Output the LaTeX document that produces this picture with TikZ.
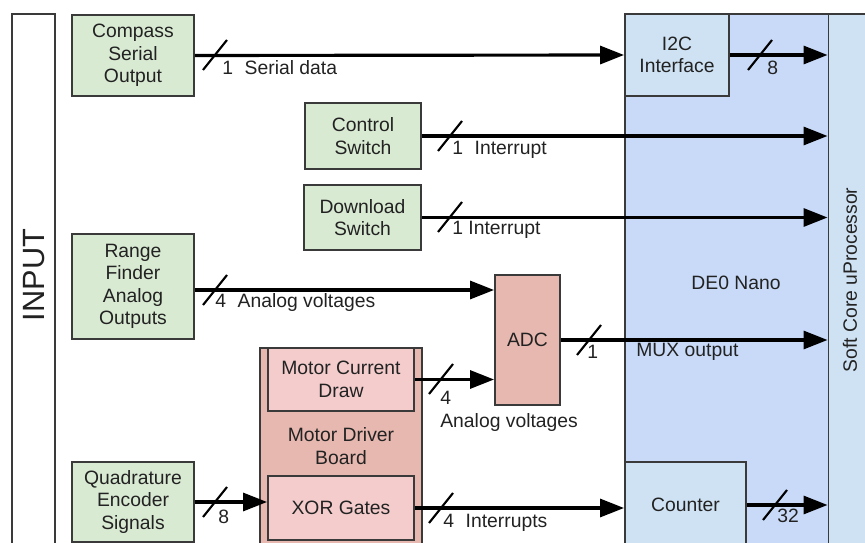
\documentclass[tikz,border=0pt]{standalone}
\usepackage{fontspec}
\setmainfont{Liberation Sans}
\usepackage{tikz}
\usetikzlibrary{arrows.meta,calc}
\definecolor{inpgreen}{HTML}{D9EAD3}
\definecolor{drvpink}{HTML}{E6B8AF}
\definecolor{subpink}{HTML}{F4CCCC}
\definecolor{fpgablue}{HTML}{C9DAF8}
\definecolor{coreblue}{HTML}{CFE2F3}
\definecolor{edge}{HTML}{3A3A3A}
\definecolor{ink}{HTML}{222222}
\tikzset{
  blk/.style={draw=edge, line width=1.1pt, align=center, inner sep=0pt, text=ink,
    font=\fontsize{11}{12.8}\selectfont},
  lbl/.style={text=ink, inner sep=0pt, align=center, font=\fontsize{11}{12.8}\selectfont},
  bus/.style={line width=1.8pt, -{Triangle[length=0.48cm,width=0.36cm]}},
  slash/.pic={\draw[line width=1.2pt] (-12,15) -- (12,-15);}
}
\begin{document}
\begin{tikzpicture}[x=0.02cm, y=-0.02cm]
\clip (0,0) rectangle (865,543);
%%%%% Blocks %%%%%
\node[blk, fill=white, minimum width=0.86cm, minimum height=10.9cm] (input) at (33.5,286) {};
\node[lbl, rotate=90, font=\fontsize{17.5}{20}\selectfont] at (34,275) {INPUT};
\node[blk, fill=fpgablue, minimum width=4.1cm, minimum height=10.9cm] (de0) at (727.5,286) {};
\node[lbl] at (736,283) {DE0 Nano};
\node[blk, fill=coreblue, minimum width=2.08cm, minimum height=1.64cm] (i2c) at (677,55) {I2C\\Interface};
\node[blk, fill=coreblue, minimum width=2.42cm, minimum height=1.72cm] (counter) at (685.5,505) {Counter};
\node[blk, fill=coreblue, minimum width=1.1cm, minimum height=10.9cm] (cpu) at (856,286) {};
\node[lbl, rotate=90] at (850,280) {Soft Core uProcessor};
\node[blk, fill=inpgreen, minimum width=2.44cm, minimum height=1.62cm] (compass) at (133,55.5) {Compass\\Serial\\Output};
\node[blk, fill=inpgreen, minimum width=2.32cm, minimum height=1.32cm] (ctrl) at (363,136) {Control\\Switch};
\node[blk, fill=inpgreen, minimum width=2.34cm, minimum height=1.3cm] (dload) at (362.5,217.5) {Download\\Switch};
\node[blk, fill=inpgreen, minimum width=2.44cm, minimum height=2.1cm] (range) at (133,286.5) {Range\\Finder\\Analog\\Outputs};
\node[blk, fill=inpgreen, minimum width=2.44cm, minimum height=1.6cm] (quad) at (133,502) {Quadrature\\Encoder\\Signals};
\node[blk, fill=drvpink, minimum width=3.24cm, minimum height=4.14cm] (mdb) at (341,451.5) {};
\node[lbl] at (341,446) {Motor Driver\\Board};
\node[blk, fill=subpink, minimum width=2.92cm, minimum height=1.26cm] (mcd) at (341,379.5) {Motor Current\\Draw};
\node[blk, fill=subpink, minimum width=2.92cm, minimum height=1.28cm] (xorg) at (341,508) {XOR Gates};
\node[blk, fill=drvpink, minimum width=1.3cm, minimum height=2.6cm] (adc) at (527.5,340) {ADC};
%%%%% Buses %%%%%
\draw[bus] (compass.east) -- (i2c.west);
\draw[bus] (i2c.east) -- (i2c.east -| cpu.west);
\draw[bus] (ctrl.east) -- (ctrl.east -| cpu.west);
\draw[bus] (dload.east) -- (dload.east -| cpu.west);
\draw[bus] ([yshift=-0.07cm]range.east) -- ([yshift=-0.07cm]range.east -| adc.west);
\draw[bus] (mcd.east) -- (mcd.east -| adc.west);
\draw[bus] (adc.east) -- (adc.east -| cpu.west);
\draw[bus] (quad.east) -- (quad.east -| xorg.west);
\draw[bus] (xorg.east) -- (xorg.east -| counter.west);
\draw[bus] (counter.east) -- (counter.east -| cpu.west);
%%%%% Bus widths %%%%%
\foreach \x/\y in {215/55, 760/55, 450/136, 450/217, 215/290, 441/379, 589/340, 215/502, 441/508, 775/505}{
  \pic at (\x,\y) {slash};
}
\node[lbl, anchor=west] at (222,68) {1\hspace{0.6em}Serial data};
\node[lbl, anchor=west] at (767,68) {8};
\node[lbl, anchor=west] at (452,150) {1\hspace{0.6em}Interrupt};
\node[lbl, anchor=west] at (452,230) {1 Interrupt};
\node[lbl, anchor=west] at (215,303) {4\hspace{0.6em}Analog voltages};
\node[lbl, anchor=west] at (440,398) {4};
\node[lbl, anchor=west] at (440,423) {Analog voltages};
\node[lbl, anchor=west] at (587,352) {1};
\node[lbl, anchor=west] at (636,352) {MUX output};
\node[lbl, anchor=west] at (218,517) {8};
\node[lbl, anchor=west] at (443,523) {4\hspace{0.6em}Interrupts};
\node[lbl, anchor=west] at (777,516) {32};
\end{tikzpicture}
\end{document}
